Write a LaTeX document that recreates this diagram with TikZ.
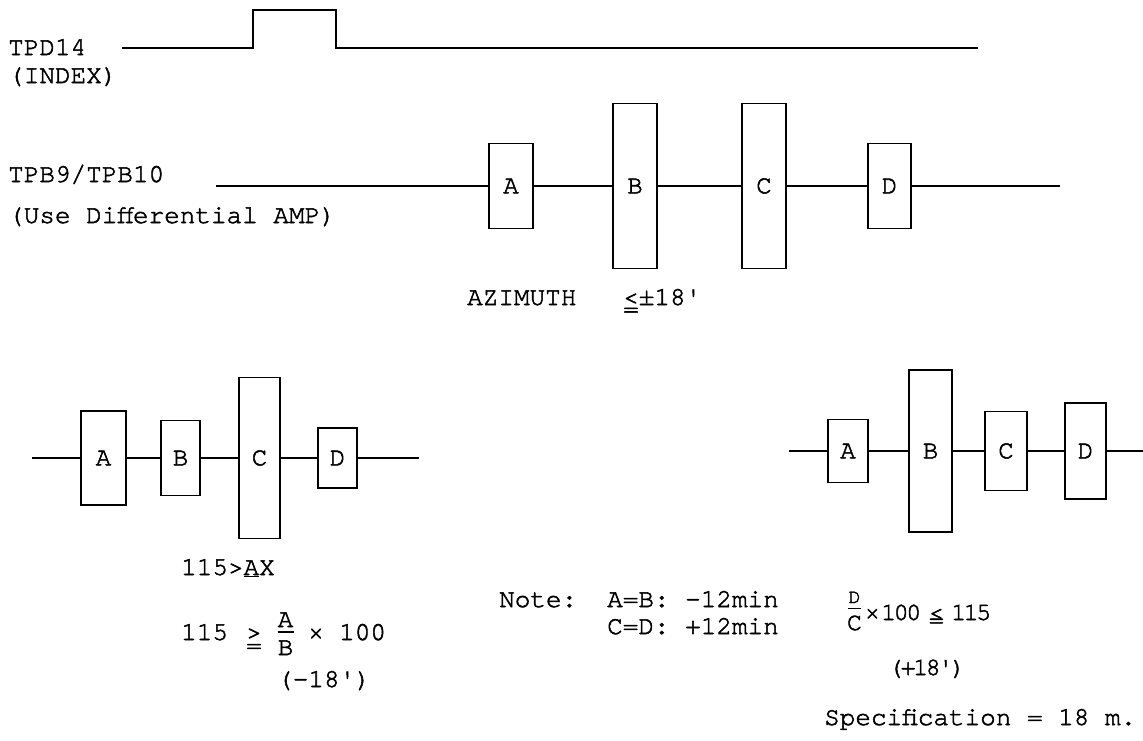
\documentclass[tikz,border=0pt]{standalone}
\usepackage{fontspec}
\newfontfamily\tw{texgyrecursor-regular.otf}[FakeBold=2]
\newfontfamily\tn{texgyrecursor-regular.otf}[LetterSpace=-10,FakeBold=2]
\newcommand\dleq[1][0.47em]{\ooalign{<\cr\raisebox{-#1}{=}\cr}}
\newcommand\dgeq[1][0.47em]{\ooalign{>\cr\raisebox{-#1}{=}\cr}}
\tikzset{
  sig/.style={line width=1.6pt, line join=miter},
  blk/.style={draw, line width=1.6pt, rectangle, inner sep=0pt, font=\tw\fontsize{26}{30}\selectfont},
  txt/.style={anchor=base west, inner sep=0pt, font=\tw\fontsize{26}{30}\selectfont},
  txts/.style={anchor=base west, inner sep=0pt, font=\tn\fontsize{25}{29}\selectfont},
  fbar/.style={line width=1.3pt},
}
\begin{document}
\begin{tikzpicture}[x=1pt,y=-1pt]
\useasboundingbox (0,0) rectangle (1143,740);

% ---- index signal ----
\node[txt] (tpd) at (8,55) {TPD14};
\node[txt] (idx) at (8,83) {(INDEX)};
\coordinate (p0) at (122,48);
\coordinate (p1) at (253,48);
\coordinate (p2) at (253,10);
\coordinate (p3) at (336,10);
\coordinate (p4) at (336,48);
\coordinate (p5) at (978,48);
\draw[sig] (p0) -- (p1) -- (p2) -- (p3) -- (p4) -- (p5);

% ---- TPB9/TPB10 ----
\node[txt] (tpb) at (8,182) {TPB9/TPB10};
\node[txt] (dif) at (8,223) {(Use Differential AMP)};
\coordinate (r1s) at (216,186);
\node[blk, minimum width=44pt, minimum height=85pt]  (a1) at (511,186) {A};
\node[blk, minimum width=44pt, minimum height=165pt] (b1) at (635,186) {B};
\node[blk, minimum width=44pt, minimum height=165pt] (c1) at (764,186) {C};
\node[blk, minimum width=43pt, minimum height=85pt]  (d1) at (889.5,186) {D};
\coordinate (r1e) at (1060,186);
\draw[sig] (r1s) -- (a1) -- (b1) -- (c1) -- (d1) -- (r1e);
\node[txt] (az) at (467,305) {AZIMUTH\ \ \ \dleq[0.45em]{}±18'};

% ---- lower left ----
\coordinate (r2s) at (32,458);
\node[blk, minimum width=45pt, minimum height=94pt]  (a2) at (103.5,458) {A};
\node[blk, minimum width=39pt, minimum height=75pt]  (b2) at (180.5,458) {B};
\node[blk, minimum width=41pt, minimum height=161pt] (c2) at (259.5,458) {C};
\node[blk, minimum width=39pt, minimum height=60pt]  (d2) at (337.5,458) {D};
\coordinate (r2e) at (419,458);
\draw[sig] (r2s) -- (a2) -- (b2) -- (c2) -- (d2) -- (r2e);

\node[txt] (ax) at (181,575) {115>\underline{A}X};
\node[txt] (f1a) at (181,640) {115};
\node[txt] (f1b) at (246,640) {\dgeq[0.5em]};
\node[txt, anchor=base] (f1n) at (285.5,627) {A};
\node[txt, anchor=base] (f1d) at (285.5,655) {B};
\draw[fbar] ([yshift=-5pt]f1n.base west) -- ([yshift=-5pt]f1n.base east);
\node[txt] (f1x) at (308,640) {×};
\node[txt] (f1c) at (339,640) {100};
\node[txt] (f1m) at (277,687) {(-18')};

% ---- note ----
\node[txt] (note) at (499,607) {Note:};
\node[txt] (n1) at (607,607) {A=B: -12min};
\node[txt] (n2) at (607,634) {C=D: +12min};

% ---- lower right ----
\coordinate (r3s) at (789,451);
\node[blk, minimum width=40pt, minimum height=63pt]  (a3) at (848,451) {A};
\node[blk, minimum width=43pt, minimum height=162pt] (b3) at (930.5,451) {B};
\node[blk, minimum width=42pt, minimum height=79pt]  (c3) at (1006,451) {C};
\node[blk, minimum width=41pt, minimum height=96pt]  (d3) at (1085.5,451) {D};
\coordinate (r3e) at (1143,451);
\draw[sig] (r3s) -- (a3) -- (b3) -- (c3) -- (d3) -- (r3e);

\node[txts, anchor=base, font=\tn\fontsize{20}{24}\selectfont] (f2n) at (854.5,603) {D};
\node[txts, anchor=base] (f2d) at (854.5,630) {C};
\draw[fbar] ([yshift=-5.5pt]f2n.base west) -- ([yshift=-5.5pt]f2n.base east);
\node[txts] (f2x) at (864.7,620) {×};
\node[txts] (f2c) at (881,620) {100};
\node[txts] (f2b) at (928.7,620) {\dleq[0.29em]};
\node[txts] (f2e) at (951,620) {115};
\node[txts] (f2m) at (888,675) {(+18')};
\node[txt] (spec) at (824,725) {Specification = 18 m.};
\end{tikzpicture}
\end{document}
